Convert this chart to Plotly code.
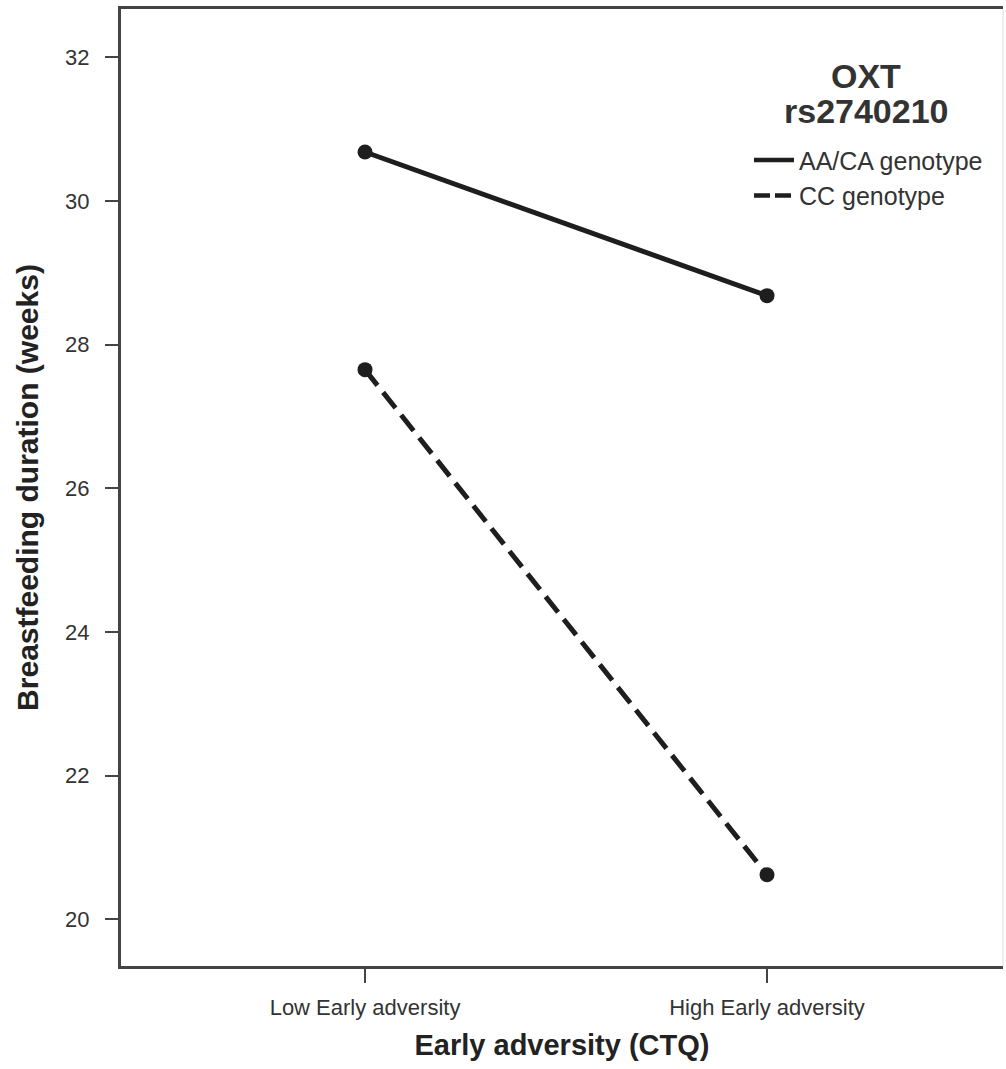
import plotly.graph_objects as go

categories = ["Low Early adversity", "High Early adversity"]
aa_ca = [30.68, 28.68]
cc = [27.65, 20.62]
series_names = ["AA/CA genotype", "CC genotype"]
y_ticks = [20, 22, 24, 26, 28, 30, 32]

xpos = list(range(len(categories)))
LINE = "#1e1e1e"

fig = go.Figure()
fig.add_trace(go.Scatter(x=xpos, y=aa_ca, mode="lines+markers", showlegend=False,
                         line=dict(color=LINE, width=5),
                         marker=dict(size=15, color=LINE)))
fig.add_trace(go.Scatter(x=xpos, y=cc, mode="lines+markers", showlegend=False,
                         line=dict(color=LINE, width=5, dash="20px,9px"),
                         marker=dict(size=15, color=LINE)))
# legend-only entries
fig.add_trace(go.Scatter(x=[None], y=[None], mode="lines", name=series_names[0],
                         line=dict(color=LINE, width=4.5)))
fig.add_trace(go.Scatter(x=[None], y=[None], mode="lines", name=series_names[1],
                         line=dict(color=LINE, width=4.5, dash="16px,5px")))

font_family = "Liberation Sans, Arial, sans-serif"
fig.update_layout(
    width=1006, height=1069,
    margin=dict(l=121, r=3, t=9, b=103),
    paper_bgcolor="white", plot_bgcolor="white",
    font=dict(family=font_family, color="#333333"),
    showlegend=True,
    legend=dict(x=0.712, y=0.866, xanchor="left", yanchor="top",
                font=dict(size=25, color="#333333"), tracegroupgap=0,
                bgcolor="rgba(0,0,0,0)", itemwidth=40),
    xaxis=dict(
        range=[-0.607, 1.587], tickvals=xpos, ticktext=categories,
        showgrid=False, zeroline=False,
        showline=True, linecolor="#444444", linewidth=3, mirror=True,
        ticks="outside", ticklen=14, tickwidth=2, tickcolor="#444444",
        ticklabelstandoff=6,
        tickfont=dict(size=22, color="#333333"),
        title=dict(text="<b>Early adversity (CTQ)</b>", font=dict(size=29, color="#222222"), standoff=16),
    ),
    yaxis=dict(
        range=[19.35, 32.67], tickvals=y_ticks,
        showgrid=False, zeroline=False,
        showline=True, linecolor="#444444", linewidth=3,
        ticks="outside", ticklen=13, tickwidth=2, tickcolor="#444444",
        ticklabelstandoff=11,
        tickfont=dict(size=22, color="#333333"),
        title=dict(text="<b>Breastfeeding duration (weeks)</b>", font=dict(size=30, color="#222222"), standoff=18),
    ),
    shapes=[dict(type="line", xref="paper", yref="paper", x0=1, x1=1, y0=0, y1=1,
                 line=dict(color="#dddddd", width=1))],
    annotations=[
        dict(text="<b>OXT</b>", xref="paper", yref="paper",
             x=0.845, y=0.9295, xanchor="center", yanchor="middle",
             showarrow=False, font=dict(size=34, color="#333333")),
        dict(text="<b>rs2740210</b>", xref="paper", yref="paper",
             x=0.845, y=0.893, xanchor="center", yanchor="middle",
             showarrow=False, font=dict(size=34, color="#333333")),
    ],
)

fig.write_html("out.html")
